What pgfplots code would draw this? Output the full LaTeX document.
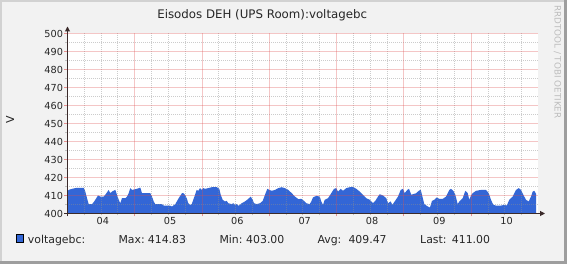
\documentclass[border=0pt]{standalone}
\usepackage{pgfplots}
\pgfplotsset{compat=1.18}
\usepackage{fontspec}
\setmainfont{DejaVu Sans}
\usetikzlibrary{arrows.meta}
\pgfdeclarelayer{bglayer}
\pgfsetlayers{bglayer,main}
\definecolor{bgc}{HTML}{F2F2F2}
\definecolor{shadea}{HTML}{D2D2D2}
\definecolor{shadeb}{HTML}{9E9E9E}
\definecolor{gridc}{HTML}{8F8F8F}
\definecolor{mgridc}{HTML}{DE5050}
\definecolor{fillc}{HTML}{3366D6}
\definecolor{axisc}{HTML}{3A2A2A}
\definecolor{fontc}{HTML}{262626}
\definecolor{wmc}{HTML}{BDBDBD}
\tikzset{
  mingrid/.style={draw=gridc, draw opacity=0.45, dash pattern=on 1pt off 1pt, dash phase=0.5pt, line width=1pt},
  majgrid/.style={draw=mgridc, draw opacity=0.32, line width=1pt},
}
\begin{document}
\begin{tikzpicture}[x=1pt,y=1pt]
\begin{axis}[
  anchor=south west,
  scale only axis, width=470pt, height=180pt,
  xmin=67.5, xmax=537.5, ymin=400, ymax=500,
  axis background/.style={fill=white},
  axis line style={draw=none},
  clip mode=individual,
  tick align=outside,
  xtick pos=bottom, ytick pos=left,
  major tick length=3pt, minor tick length=2pt,
  tick label style={font=\fontsize{9.7}{11}\selectfont, text=fontc},
  yticklabel style={xshift=2pt},
  /pgf/number format/assume math mode=true,
  xtick={134.5,202.5,269.5,336.5,403.5,471.5},
  xticklabels={,,,,,},
  minor xtick={84.5,101.5,117.5,151.5,168.5,185.5,218.5,235.5,252.5,286.5,302.5,319.5,353.5,370.5,387.5,420.5,437.5,454.5,488.5,504.5,521.5},
  extra x ticks={102.8,170.1,237.4,304.7,372,439.3,506.6},
  extra x tick labels={04,05,06,07,08,09,10},
  extra x tick style={major tick length=0pt},
  ytick={400,410,...,500},
  minor ytick={405,415,...,495},
  major tick style={draw=mgridc, draw opacity=0.6, line width=1pt},
  minor tick style={draw=gridc, draw opacity=0.5, line width=1pt},
]
\addplot[fill=fillc, draw=none] coordinates {
(67.5,412.6) (68.7,413.1) (72,413.7) (77,414.3) (83.7,414.3) (85.3,412.2) (87,408.5) (88.7,405.2) (92,405.2) (93.7,406.3) (95.3,407.6) (98,410) (100.3,409.4) (103.7,409.4) (105.3,410.4) (108.7,413.1) (110.3,411.3) (112,412.2) (115.3,413.1) (117,410.4) (118.7,407.6) (120.3,405.7) (122,408.5) (125.3,408.5) (127,409.4) (128.7,411.3) (130.3,414.1) (132,413.1) (137,413.7) (140.3,414.4) (142,411.3) (150.3,411.3) (152,409.4) (153.7,406.7) (155.3,405.2) (162,405.2) (163.7,404.4) (170.3,404.3) (172,403.9) (175.3,405.2) (178.7,408.5) (182,411.3)
(183.3,411.3) (185,410.4) (186.7,408.5) (188.3,405.7) (190,404.8) (191.7,405.2) (193.3,407.6) (195,410.4) (196.7,413.1) (198.3,412.6) (200,414.1) (201.7,413.1) (203.3,414.1) (205,413.7) (208.3,414.1) (211.7,414.6) (216.7,414.6) (219.3,413.7) (220.7,410.4) (222.7,407.6) (225,406.7) (226.7,407) (228.3,405.7) (231.7,405.2) (233.3,405.7) (235,404.8) (236.7,405.2) (238.3,404.3) (240,404.8) (241.7,405.7) (245,406.7) (248.3,408.1) (250.7,409.4) (252.7,407.6) (254,405.7) (256.7,405.2) (260,405.7) (262.7,407) (265,410.4) (267.3,413.7) (269.3,413.1) (271.7,412.6) (275,413.1) (278.3,414.1) (281.7,414.6) (285,414.1) (288.3,413.1) (291.7,411.3) (295,409.4) (298.3,408)
(301.3,408.1) (304,407) (306.3,405.7) (309.7,405.2) (311.3,406.7) (313,408.9) (316.3,409.8) (319.7,409.4) (321.3,406.7) (323,404.8) (324.7,407.6) (328,408.5) (331.3,411.3) (334,413.7) (336.3,414.1) (338,412.2) (340.7,413.7) (343,412.6) (346.3,414.1) (349.7,414.6) (353,414.8) (356.3,413.7) (359.7,412.2) (363,410.4) (366.3,408.5) (369.7,407.6) (373,405.7) (375.3,407) (378,409.4) (379.7,410.7) (383,410) (386.3,408.5) (388,405.7) (390.7,406.7) (392.3,404.8) (394.7,406.7) (398,409.4) (400.7,413.1) (403,413.7) (404.7,411.3) (407.3,413.1) (409,413.7) (411.3,410.4) (413,410.7) (416.3,411.3)
(418.7,412.6) (420.7,413.1) (422,410.4) (424.3,405.2) (427.7,403.9) (430,403.3) (432,407) (434.3,407.6) (436.7,408.9) (439.3,408.1) (442.7,408.1) (446,409.4) (449.3,413.1) (451,413.7) (453.3,412.6) (455.3,410.4) (457.7,405.2) (459.3,406.7) (462.7,408.5) (465.3,412.6) (467.7,411.3) (469.3,407.6) (471,410) (472.7,411.3) (476,412.6) (481,413.1) (486,413.1) (488.7,411.3) (491,407.6) (493.3,404.8) (496,404.4) (501,404.4) (504.3,404.8) (506.7,404.4) (509.3,407.6) (512.7,409.4) (516,413.1) (518.7,414.1) (521,413.1) (523.3,410.4) (526,407.6) (528.7,406.7) (531,409.4) (532.7,412.2) (534.3,412.6) (536,411)
} \closedcycle;
% grid drawn over the area, as in the reference
\pgfplotsinvokeforeach{84.5,101.5,117.5,151.5,168.5,185.5,218.5,235.5,252.5,286.5,302.5,319.5,353.5,370.5,387.5,420.5,437.5,454.5,488.5,504.5,521.5}{
  \draw[mingrid] (axis cs:#1,400) -- (axis cs:#1,500);
}
\pgfplotsinvokeforeach{405,415,425,435,445,455,465,475,485,495}{
  \draw[mingrid] (axis cs:67.5,#1) -- (axis cs:537.5,#1);
}
\pgfplotsinvokeforeach{134.5,202.5,269.5,336.5,403.5,471.5}{
  \draw[majgrid] (axis cs:#1,400) -- (axis cs:#1,500);
}
\pgfplotsinvokeforeach{410,420,430,440,450,460,470,480,490,500}{
  \draw[majgrid] (axis cs:67.5,#1) -- (axis cs:537.5,#1);
}
\coordinate (O) at (axis cs:67.5,400);
\end{axis}
\begin{scope}[shift={(O)}, shift={(-67.5,-50.5)}]
\begin{pgfonlayer}{bglayer}
\fill[bgc] (0,0) rectangle (567,264);
\fill[shadea] (0,0) rectangle (2,264);
\fill[shadea] (0,262) rectangle (567,264);
\fill[shadeb] (564,0) rectangle (567,264);
\fill[shadeb] (0,0) rectangle (567,3);
\end{pgfonlayer}
% axis lines
\draw[axisc, line width=1pt, -{Triangle[width=5pt,length=5pt]}] (64,50.5) -- (545,50.5);
\draw[axisc, line width=1pt, -{Triangle[width=5pt,length=5pt]}] (67.5,47.5) -- (67.5,237.5);
% title
\node[font=\fontsize{11.8}{14}\selectfont, text=fontc, anchor=base, inner sep=0] at (262.2,245.7) {Eisodos DEH (UPS Room):voltagebc};
% unit label
\node[font=\fontsize{11}{13}\selectfont, text=fontc, rotate=90, inner sep=0] at (10,144) {V};
% watermark
\node[font=\fontsize{8.8}{10}\selectfont, text=wmc, rotate=-90, anchor=west, inner sep=0] at (557.5,259) {RRDTOOL / TOBI OETIKER};
% legend
\filldraw[fill=fillc, draw=black, line width=0.8pt] (16,21.3) rectangle (23.7,29.3);
\begin{scope}[every node/.style={font=\fontsize{10.9}{13}\selectfont, text=fontc, anchor=base west, inner sep=0}]
\node at (27.7,20) {voltagebc:};
\node at (118.3,20) {Max:};
\node at (147.7,20) {414.83};
\node at (219.3,20) {Min:};
\node at (246,20) {403.00};
\node at (317.3,20) {Avg:};
\node at (348.3,20) {409.47};
\node at (420,20) {Last:};
\node at (451.7,20) {411.00};
\end{scope}
\pgfresetboundingbox
\useasboundingbox (0,0) rectangle (567,264);
\end{scope}
\end{tikzpicture}
\end{document}
